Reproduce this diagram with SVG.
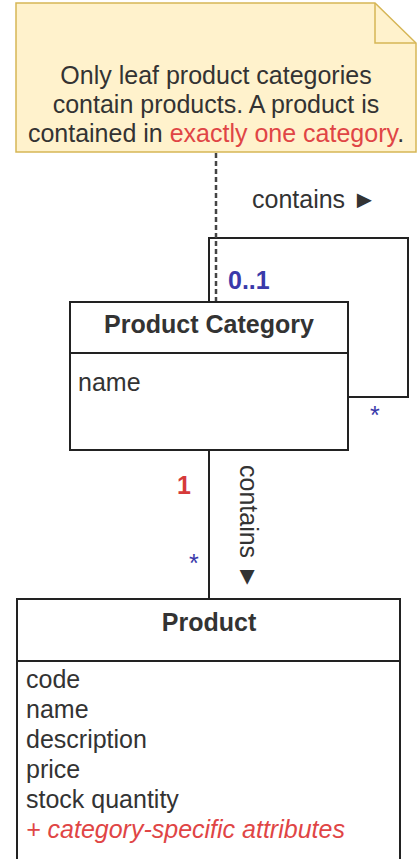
<svg xmlns="http://www.w3.org/2000/svg" width="417" height="859" viewBox="0 0 417 859">
  <style>
    text { font-family: "Liberation Sans", Arial, sans-serif; font-size: 25px; fill: #333333; }
    .title { font-weight: bold; text-anchor: middle; }
    .box { fill: #ffffff; stroke: #222222; stroke-width: 2; }
    .edge { fill: none; stroke: #222222; stroke-width: 2; }
    .note-dash { fill: none; stroke: #444444; stroke-width: 2.5; stroke-dasharray: 5 3; }
    .mult-blue { fill: #3a3aaa; }
    .mult-red { fill: #d63a3a; }
    .accent { fill: #e04545; }
  </style>
  <rect width="417" height="859" fill="#ffffff"/>

  <!-- note -->
  <g id="note">
    <path d="M16 3 H375 L416 43 V152 H16 Z" fill="#fff2cc" stroke="#d6b656" stroke-width="1.5"/>
    <path d="M375 3 V43 H416" fill="none" stroke="#d6b656" stroke-width="1.5"/>
    <text x="216" y="84" text-anchor="middle">Only leaf product categories</text>
    <text x="216" y="113" text-anchor="middle">contain products. A product is</text>
    <text x="216" y="142" text-anchor="middle">contained in <tspan class="accent">exactly one category</tspan>.</text>
  </g>

  <!-- connectors -->
  <g id="connectors">
    <!-- self association on Product Category -->
    <path class="edge" d="M209 302 V238 H408 V397 H348"/>
    <!-- Product Category to Product -->
    <path class="edge" d="M209 450 V599"/>
    <!-- note anchor -->
    <path class="note-dash" d="M216 153 V313"/>
    <text x="252" y="208">contains ►</text>
    <text x="228" y="289" class="mult-blue" font-weight="bold">0..1</text>
    <text x="370" y="424" class="mult-blue">*</text>
    <text x="177" y="494" class="mult-red" font-weight="bold">1</text>
    <text x="189" y="572" class="mult-blue">*</text>
    <text transform="translate(240 465) rotate(90)">contains ►</text>
  </g>

  <!-- Product Category class -->
  <g id="product-category">
    <rect class="box" x="70" y="302" width="278" height="148"/>
    <line class="edge" x1="70" y1="353" x2="348" y2="353"/>
    <text class="title" x="209" y="333">Product Category</text>
    <text x="78" y="391">name</text>
  </g>

  <!-- Product class -->
  <g id="product">
    <rect class="box" x="17" y="599" width="383" height="275"/>
    <line class="edge" x1="17" y1="661" x2="400" y2="661"/>
    <text class="title" x="209" y="631">Product</text>
    <text x="26" y="688">code</text>
    <text x="26" y="718">name</text>
    <text x="26" y="748">description</text>
    <text x="26" y="778">price</text>
    <text x="26" y="808">stock quantity</text>
    <text x="26" y="838" class="accent" font-style="italic">+ category-specific attributes</text>
  </g>
</svg>
